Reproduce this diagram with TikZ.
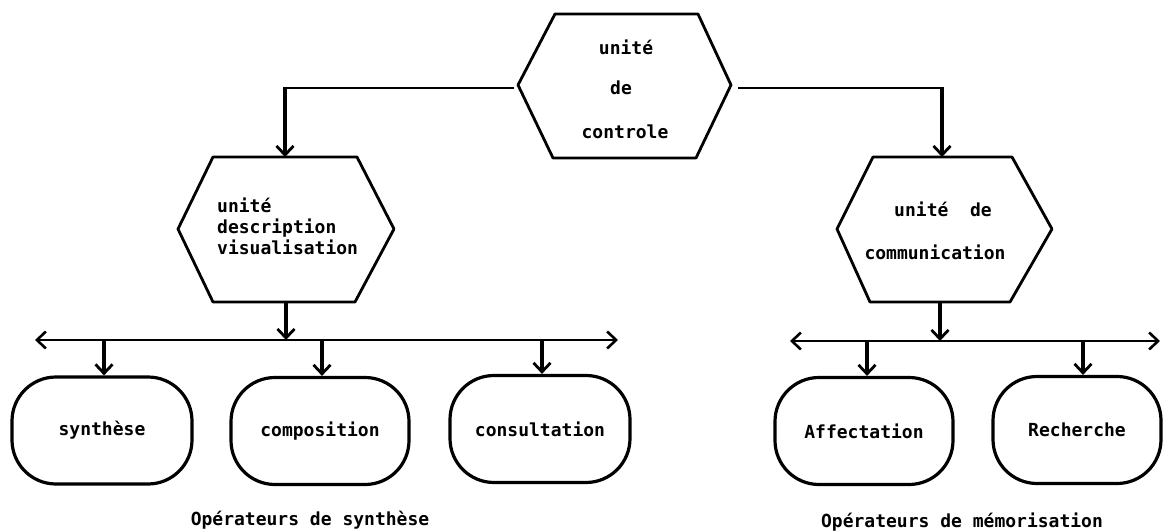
\documentclass[tikz,border=0pt]{standalone}
\usepackage{fontspec}
\setmonofont{DejaVu Sans Mono}
\usetikzlibrary{arrows.meta}
\begin{document}
\begin{tikzpicture}[x=1pt,y=-1pt,
  hexline/.style={line width=2.8pt, line join=round},
  opbox/.style={draw, line width=3.2pt, rounded corners=44pt, minimum height=107pt, inner sep=0pt},
  txt/.style={font=\ttfamily\bfseries\fontsize{18}{21}\selectfont, inner sep=0pt},
  wire/.style={line width=2.4pt},
  feed/.style={line width=3.2pt, -{Straight Barb[length=9pt,width=17pt,line width=2.8pt]}},
  bus/.style={line width=2.4pt, {Straight Barb[length=9pt,width=17pt,line width=2.6pt]}-{Straight Barb[length=9pt,width=17pt,line width=2.6pt]}}
]
\useasboundingbox (0,0) rectangle (1165,532);

% control unit
\draw[hexline] (555,14) -- (698,14) -- (731,85) coordinate (ctl-e)
  -- (696,158) -- (553,158) -- (518,85) coordinate (ctl-w) -- cycle;
\node[txt, anchor=base] (ctl-1) at (626,55) {unité};
\node[txt, anchor=base] (ctl-2) at (621,95) {de};
\node[txt, anchor=base] (ctl-3) at (625,139) {controle};

% description / visualisation unit
\draw[hexline] (213,157) -- (357,157) -- (394,229) -- (355,302)
  -- (213,302) -- (178,229) -- cycle;
\coordinate (dsc-n) at (285,157);
\coordinate (dsc-s) at (286,302);
\node[txt, anchor=north west, align=left] (dsc-t) at (217,198) {unité\\description\\visualisation};

% communication unit
\draw[hexline] (873,157) -- (1012,157) -- (1052,229) -- (1010,302)
  -- (870,302) -- (837,229) -- cycle;
\coordinate (com-n) at (942,157);
\coordinate (com-s) at (940,302);
\node[txt, anchor=base] (com-1) at (943,216) {unité~~de};
\node[txt, anchor=base] (com-2) at (935,259) {communication};

% links from the control unit
\coordinate (ctl-wo) at (514,88);
\coordinate (ctl-eo) at (738,88);
\draw[wire] (ctl-wo) -| (dsc-n |- ctl-wo);
\draw[feed] ([yshift=1.2pt]dsc-n |- ctl-wo) -- (dsc-n);
\draw[wire] (ctl-eo) -| (com-n |- ctl-eo);
\draw[feed] ([yshift=1.2pt]com-n |- ctl-eo) -- (com-n);

% synthesis operators
\coordinate (lbus-w) at (35,340);
\coordinate (lbus-e) at (618,340);
\draw[bus] (lbus-w) -- (lbus-e);
\draw[feed] (dsc-s) -- (dsc-s |- lbus-w);

\node[opbox, minimum width=180pt, txt, inner sep=0pt, draw, line width=3.2pt] (syn) at (102,430.5) {synthèse};
\node[opbox, minimum width=178pt, txt, inner sep=0pt, draw, line width=3.2pt] (cmp) at (320,431) {composition};
\node[opbox, minimum width=180pt, txt, inner sep=0pt, draw, line width=3.2pt] (cns) at (540,429) {consultation};

\draw[feed] ([xshift=2pt]syn.north |- lbus-w) -- ([xshift=2pt]syn.north);
\draw[feed] ([xshift=2pt]cmp.north |- lbus-w) -- ([xshift=2pt]cmp.north);
\draw[feed] ([xshift=2pt]cns.north |- lbus-w) -- ([xshift=2pt]cns.north);

\node[txt, anchor=base] (syn-cap) at (310,525) {Opérateurs de synthèse};

% memorisation operators
\coordinate (rbus-w) at (790,341);
\coordinate (rbus-e) at (1160,341);
\draw[bus] (rbus-w) -- (rbus-e);
\draw[feed] (com-s) -- (com-s |- rbus-w);

\node[opbox, minimum width=178pt, txt, inner sep=0pt, draw, line width=3.2pt] (aff) at (864,431) {Affectation};
\node[opbox, minimum width=168pt, txt, inner sep=0pt, draw, line width=3.2pt] (rch) at (1077,430) {Recherche};

\draw[feed] ([xshift=3pt]aff.north |- rbus-w) -- ([xshift=3pt]aff.north);
\draw[feed] ([xshift=6pt]rch.north |- rbus-w) -- ([xshift=6pt]rch.north);

\node[txt, anchor=base] (mem-cap) at (962,527) {Opérateurs de mémorisation};
\end{tikzpicture}
\end{document}
